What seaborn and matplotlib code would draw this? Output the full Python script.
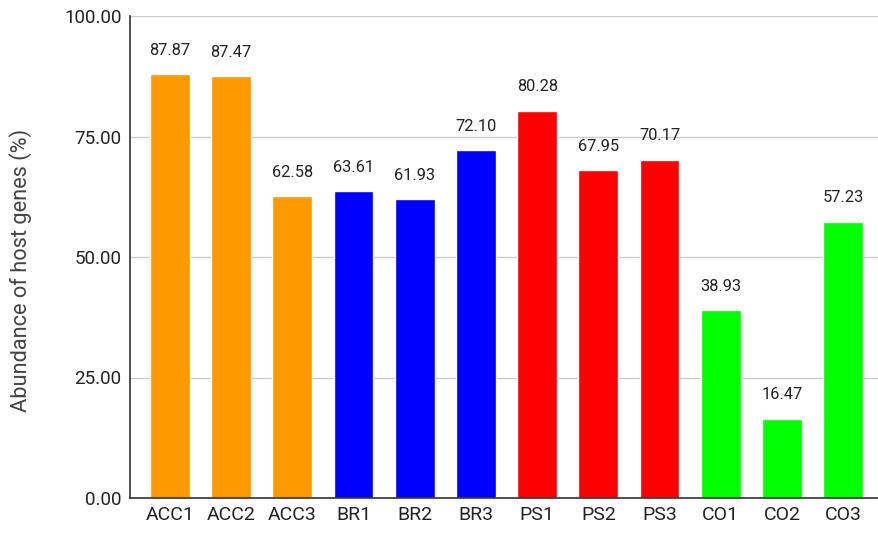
import matplotlib
matplotlib.use("Agg")
import matplotlib.pyplot as plt
import seaborn as sns
import pandas as pd

samples = ["ACC1", "ACC2", "ACC3", "BR1", "BR2", "BR3",
           "PS1", "PS2", "PS3", "CO1", "CO2", "CO3"]
abundance = [87.87, 87.47, 62.58, 63.61, 61.93, 72.10,
             80.28, 67.95, 70.17, 38.93, 16.47, 57.23]
groups = ["ACC"] * 3 + ["BR"] * 3 + ["PS"] * 3 + ["CO"] * 3
group_colors = {"ACC": "#FF9900", "BR": "#0000FF", "PS": "#FF0000", "CO": "#00FF00"}
y_ticks = [0, 25, 50, 75, 100]

df = pd.DataFrame({"sample": samples, "abundance": abundance, "group": groups})

sns.set_theme(style="white")
plt.rcParams["font.family"] = ["Roboto", "DejaVu Sans"]

fig = plt.figure(figsize=(8.79, 5.33), dpi=100)
ax = fig.add_axes([130 / 879, 35 / 533, 748 / 879, 482 / 533])

sns.barplot(data=df, x="sample", y="abundance", hue="group",
            palette=group_colors, dodge=False, width=0.65,
            legend=False, ax=ax, saturation=1)

for container in ax.containers:
    ax.bar_label(container, fmt="%.2f", padding=12, fontsize=11.8, color="#222222")

ax.set_ylim(0, 100)
ax.set_xlim(-0.653, 11.57)
ax.set_yticks(y_ticks)
ax.set_yticklabels([f"{v:.2f}" for v in y_ticks], fontsize=13.5)
ax.set_xticks(range(len(samples)))
ax.set_xticklabels(samples, fontsize=14)
ax.yaxis.grid(True, color="#cccccc", linewidth=1)
ax.set_axisbelow(True)
ax.set_xlabel("")
ax.set_ylabel("Abundance of host genes (%)", fontsize=15.7, color="#444444")
ax.yaxis.set_label_coords(-0.131, 0.473)
ax.tick_params(axis="both", colors="#222222", length=0, pad=6)

for side in ["top", "right"]:
    ax.spines[side].set_visible(False)
for side in ["left", "bottom"]:
    ax.spines[side].set_color("#333333")
    ax.spines[side].set_linewidth(1.2)

fig.savefig("out.png", dpi=100)
